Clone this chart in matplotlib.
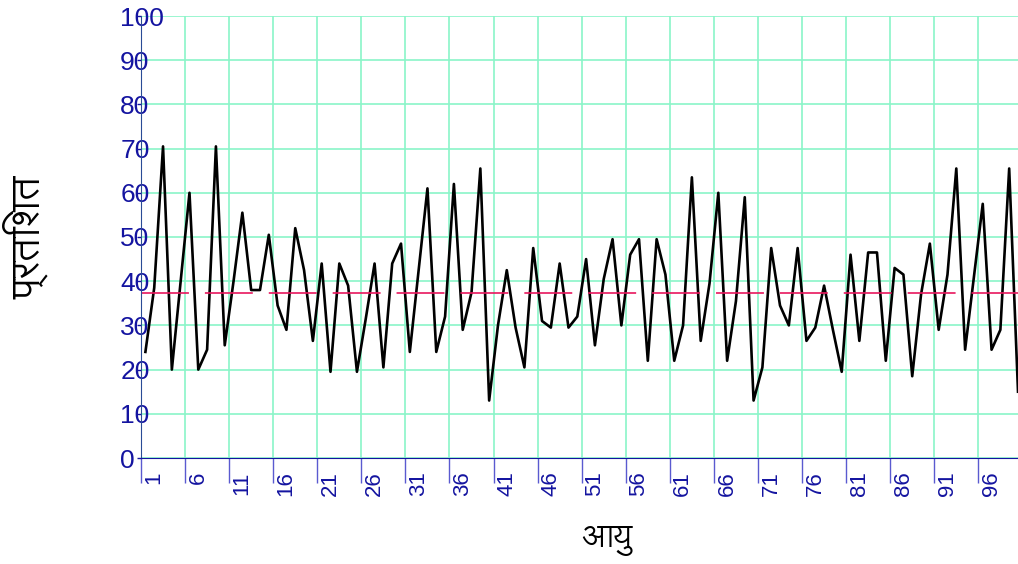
import numpy as np
import matplotlib
matplotlib.use("Agg")
import matplotlib.pyplot as plt
from matplotlib.transforms import ScaledTranslation

ages = np.arange(1, 101)
percent = [24, 38.5, 70.5, 20, 40, 60, 20, 24.5, 70.5, 25.5,
           40, 55.5, 38, 38, 50.5, 34.5, 29, 52, 42.5, 26.5,
           44, 19.5, 44, 39, 19.5, 31.5, 44, 20.5, 44, 48.5,
           24, 42.5, 61, 24, 32, 62, 29, 37.5, 65.5, 13,
           30, 42.5, 29.5, 20.5, 47.5, 31, 29.5, 44, 29.5, 32,
           45, 25.5, 40.5, 49.5, 30, 46, 49.5, 22, 49.5, 41.5,
           22, 30, 63.5, 26.5, 39.5, 60, 22, 35.5, 59, 13,
           20.5, 47.5, 34.5, 30, 47.5, 26.5, 29.5, 39, 29, 19.5,
           46, 26.5, 46.5, 46.5, 22, 43, 41.5, 18.5, 37, 48.5,
           29, 41.5, 65.5, 24.5, 41, 57.5, 24.5, 29, 65.5, 15]
x_ticks = np.arange(1, 101, 5)
y_ticks = np.arange(0, 101, 10)
x_title = "आयु"
y_title = "प्रतिशत"

plt.rcParams["font.family"] = ["Liberation Sans", "Lohit Devanagari", "DejaVu Sans"]
plt.rcParams["lines.scale_dashes"] = False
blue = "#1414a0"

fig = plt.figure(figsize=(10.18, 5.64), dpi=100)
ax = fig.add_axes([141 / 1018, 106 / 564, 877 / 1018, 442 / 564])

# points sit half a step right of the ticks, like category centres
ax.plot(ages + 0.5, percent, color="black", lw=1.9)
# average line
ax.axhline(np.mean(percent), color="#e8175d", lw=1.2, ls=(0, (34.5, 11.5)))

ax.set_xlim(1, 100.5)
ax.set_ylim(0, 100)
ax.set_xticks(x_ticks)
ax.set_yticks(y_ticks)
ax.grid(True, color="#8af5c8", lw=1.2)
ax.set_axisbelow(True)

for s in ["top", "right"]:
    ax.spines[s].set_visible(False)
ax.spines["left"].set_color("#2a4b96")
ax.spines["bottom"].set_color(blue)

ax.tick_params(axis="x", color="#5a5ad0", labelcolor=blue, length=18, width=1,
               labelsize=16, labelrotation=90, pad=-8.5)
ax.tick_params(axis="y", color=blue, labelcolor=blue, length=3, width=1,
               labelsize=19, pad=12)
for lab in ax.get_yticklabels():
    lab.set_horizontalalignment("left")
shift = ScaledTranslation(0.13, 0, fig.dpi_scale_trans)
for lab in ax.get_xticklabels():
    lab.set_verticalalignment("top")
    lab.set_transform(lab.get_transform() + shift)

fig.text(26 / 1018, 1 - 237 / 564, y_title, rotation=90, ha="center", va="center",
         fontsize=29, color="black", family=["Lohit Devanagari", "DejaVu Sans"])
fig.text(607 / 1018, 1 - 541 / 564, x_title, ha="center", va="center",
         fontsize=23, color="black", family=["Lohit Devanagari", "DejaVu Sans"])

fig.savefig("out.png", dpi=100)
